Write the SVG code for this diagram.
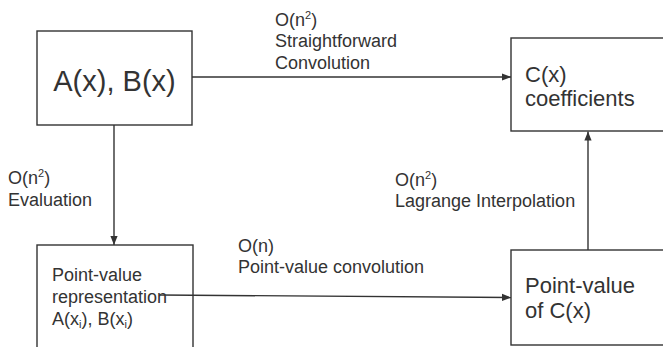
<svg xmlns="http://www.w3.org/2000/svg" width="663" height="347" viewBox="0 0 663 347">
  <style>
    .box { fill: #ffffff; stroke: #333333; stroke-width: 1.4; }
    .edge { fill: none; stroke: #333333; stroke-width: 1.4; }
    text { font-family: "Liberation Sans", Arial, sans-serif; fill: #333333; }
    .big { font-size: 29px; }
    .mid { font-size: 22px; }
    .lbl { font-size: 18px; }
    .sup { font-size: 11px; }
  </style>
  <defs>
    <marker id="arrow" viewBox="0 0 10 10" refX="10" refY="5" markerWidth="9" markerHeight="9" markerUnits="userSpaceOnUse" orient="auto">
      <path d="M0,1 L10,5 L0,9 Z" fill="#333333"/>
    </marker>
  </defs>

  <rect width="663" height="347" fill="#ffffff"/>

  <g id="connectors">
    <line class="edge" x1="192" y1="77" x2="511" y2="77" marker-end="url(#arrow)"/>
    <line class="edge" x1="114" y1="125" x2="114" y2="245" marker-end="url(#arrow)"/>
    <line class="edge" x1="160" y1="295" x2="511" y2="297.5" marker-end="url(#arrow)"/>
    <line class="edge" x1="588" y1="250" x2="588" y2="131.5" marker-end="url(#arrow)"/>

    <text class="lbl" x="275"><tspan x="275" y="25.5">O(n<tspan class="sup" dy="-7">2</tspan><tspan dy="7">)</tspan></tspan><tspan x="275" y="47">Straightforward</tspan><tspan x="275" y="68.5">Convolution</tspan></text>
    <text class="lbl" x="8"><tspan x="8" y="184">O(n<tspan class="sup" dy="-7">2</tspan><tspan dy="7">)</tspan></tspan><tspan x="8" y="206">Evaluation</tspan></text>
    <text class="lbl" x="395"><tspan x="395" y="186">O(n<tspan class="sup" dy="-7">2</tspan><tspan dy="7">)</tspan></tspan><tspan x="395" y="207">Lagrange Interpolation</tspan></text>
    <text class="lbl" x="238"><tspan x="238" y="252">O(n)</tspan><tspan x="238" y="273">Point-value convolution</tspan></text>
  </g>

  <g id="node-ab">
    <rect class="box" x="37" y="31" width="155" height="94"/>
    <text class="big" x="114.5" y="91" text-anchor="middle">A(x), B(x)</text>
  </g>

  <g id="node-coefficients">
    <rect class="box" x="511" y="38" width="160" height="93"/>
    <text class="mid"><tspan x="525" y="82">C(x)</tspan><tspan x="525" y="106">coefficients</tspan></text>
  </g>

  <g id="node-pv-ab">
    <rect class="box" x="37" y="245" width="156" height="110" fill-opacity="0"/>
    <text class="lbl"><tspan x="52" y="281">Point-value</tspan><tspan x="52" y="303">representation</tspan><tspan x="52" y="325">A(x<tspan class="sup" dy="3">i</tspan><tspan dy="-3">), B(x</tspan><tspan class="sup" dy="3">i</tspan><tspan dy="-3">)</tspan></tspan></text>
  </g>

  <g id="node-pv-c">
    <rect class="box" x="511" y="250" width="160" height="95"/>
    <text class="mid"><tspan x="525" y="293">Point-value</tspan><tspan x="525" y="318">of C(x)</tspan></text>
  </g>
</svg>
